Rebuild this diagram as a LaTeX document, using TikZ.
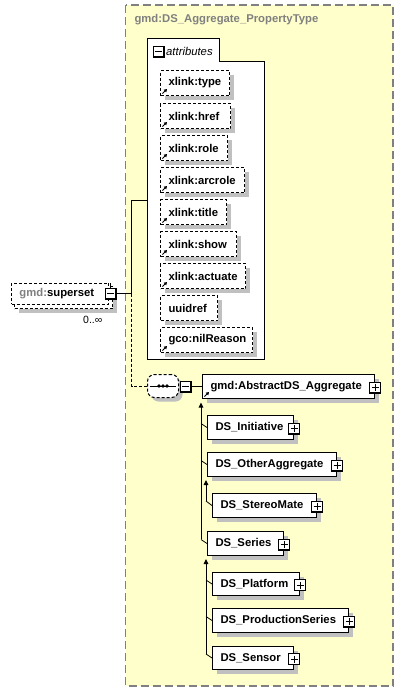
\documentclass[tikz,border=0pt]{standalone}
\usepackage{fontspec}
\setmainfont{Liberation Sans}
\usetikzlibrary{shadows,arrows.meta,calc}
\definecolor{bgyellow}{HTML}{FFFFCC}
\definecolor{shadowgray}{HTML}{C0C0C0}
\definecolor{bordergray}{HTML}{808080}
\definecolor{nsgray}{HTML}{808080}
\tikzset{
  x=1pt, y=-1pt,
  lbl/.style={font=\fontsize{11.3}{13}\selectfont\bfseries},
  elem/.style={lbl, draw=black, fill=white, line width=1pt, anchor=north west,
    inner xsep=8pt, inner ysep=0pt, align=left,
    drop shadow={shadow xshift=4pt, shadow yshift=-4pt, fill=shadowgray, opacity=1}},
  attr/.style={elem, dash pattern=on 3pt off 2pt},
  btn/.style={draw=black, fill=white, line width=1pt, minimum size=11pt, inner sep=0pt,
    path picture={\draw[line width=1.6pt] (path picture bounding box.north east) -- (path picture bounding box.south east) -- (path picture bounding box.south west);}},
  conn/.style={draw=black, line width=1pt},
  subarrow/.style={conn, -{Triangle[length=5pt,width=4.5pt]}},
  refarrow/.style={line width=1pt, -{Triangle[length=3pt,width=3.5pt]}},
}
\newcommand{\refmark}[1]{\draw[refarrow] ([shift={(2.5,-2.5)}]#1.south west) -- ++(4.5,-4.5);}
\newcommand{\plusbutton}[2]{\node[btn] (#1) at (#2) {};
  \draw[line width=1pt] ([xshift=2.5pt]#1.west) -- ([xshift=-2.5pt]#1.east)
    ([yshift=-2.5pt]#1.north) -- ([yshift=2.5pt]#1.south);}
\newcommand{\minusbutton}[2]{\node[btn] (#1) at (#2) {};
  \draw[line width=1pt] ([xshift=2.5pt]#1.west) -- ([xshift=-2.5pt]#1.east);}
\begin{document}
\begin{tikzpicture}
\useasboundingbox (0,0) rectangle (403,691);
% outer complex type box
\draw[fill=bgyellow, draw=bordergray, line width=1.2pt, dash pattern=on 8pt off 4pt] (125.5,5) rectangle (393,686);
\node[lbl, text=nsgray, anchor=west] (title) at (131,19.5) {gmd:DS\_Aggregate\_PropertyType};

% attributes box
\draw[fill=white, line width=1pt] (147,38) -- (219,38) -- (219,61) -- (264,61) -- (264,359) -- (147,359) -- cycle;
\coordinate (attrL) at (147,200.5);
\minusbutton{attrbtn}{158.5,51.5}
\node[font=\fontsize{11.3}{13}\selectfont\itshape, anchor=west, inner sep=0pt] (attrtxt) at (166,51) {attributes};

\node[attr, text width=53pt, minimum height=25pt] (xtype) at (160,70) {xlink:type};
\node[attr, text width=54pt, minimum height=25pt] (xhref) at (160,103) {xlink:href};
\node[attr, text width=51pt, minimum height=25pt] (xrole) at (160,135) {xlink:role};
\node[attr, text width=68pt, minimum height=25pt] (xarc) at (160,167) {xlink:arcrole};
\node[attr, text width=50pt, minimum height=25pt] (xtitle) at (160,199) {xlink:title};
\node[attr, text width=60pt, minimum height=25pt] (xshow) at (160,231) {xlink:show};
\node[attr, text width=69pt, minimum height=25pt] (xact) at (160,263) {xlink:actuate};
\node[attr, text width=41pt, minimum height=25pt] (uuid) at (160,295) {uuidref};
\node[attr, text width=76pt, minimum height=25pt] (nil) at (160,327) {gco:nilReason};
\foreach \n in {xtype,xhref,xrole,xarc,xtitle,xshow,xact,nil} {\refmark{\n}}

% superset element (multiple occurrences)
\node[draw=black, fill=white, line width=1pt, dash pattern=on 3pt off 2pt, anchor=north west,
  minimum width=98pt, minimum height=22pt,
  drop shadow={shadow xshift=4pt, shadow yshift=-4pt, fill=shadowgray, opacity=1}] (supback) at (14,286) {};
\node[lbl, draw=black, fill=white, line width=1pt, dash pattern=on 3pt off 2pt, anchor=north west,
  minimum width=97pt, minimum height=21pt, text width=81pt, inner xsep=8pt, inner ysep=0pt, align=left] (sup) at (11,282.5) {\textcolor{nsgray}{gmd:}superset};
\minusbutton{supbtn}{110.5,293.5}
\draw[line width=1pt] (supbtn.north) -- ++(0,-5);
\node[font=\fontsize{10.5}{12}\selectfont, anchor=west, inner sep=0pt] (card) at (83,319.5) {0..∞};

% sequence compositor
\node[draw=black, fill=white, line width=1pt, dash pattern=on 3pt off 2pt, rounded corners=7pt,
  minimum width=31pt, minimum height=23pt,
  drop shadow={shadow xshift=4pt, shadow yshift=-4pt, fill=shadowgray, opacity=1}] (seq) at (163,386) {};
\draw[line width=1pt] ([xshift=-13pt]seq.center) -- ([xshift=13pt]seq.center);
\foreach \dx in {-4,0,4} {\fill ([xshift=\dx pt]seq.center) circle (1.9pt);}
\minusbutton{seqbtn}{185.5,386.5}

% connectors from superset
\coordinate (jn1) at (131.5,293.5);
\coordinate (jn0) at (131.5,200.5);
\coordinate (jn2) at (131.5,386);
\draw[conn] (attrL) -- (jn0) -- (jn1) -- (supbtn.east);
\draw[conn, dash pattern=on 3pt off 2pt] (jn1) -- (jn2) -- (seq.west);

% abstract element and substitution group
\node[elem, text width=156pt, minimum height=24pt] (abs) at (202,374) {gmd:AbstractDS\_Aggregate};
\refmark{abs}
\draw[conn] (seqbtn.east) -- (seqbtn.east -| abs.west);

\node[elem, text width=70pt, minimum height=24pt] (init) at (207,415) {DS\_Initiative};
\node[elem, text width=113pt, minimum height=24pt] (other) at (207,452) {DS\_OtherAggregate};
\node[elem, text width=88pt, minimum height=24pt] (stereo) at (212,493) {DS\_StereoMate};
\node[elem, text width=60pt, minimum height=24pt] (series) at (207,531) {DS\_Series};
\node[elem, text width=71pt, minimum height=23pt] (platform) at (212,572) {DS\_Platform};
\node[elem, text width=120pt, minimum height=24pt] (prod) at (212,608) {DS\_ProductionSeries};
\node[elem, text width=65pt, minimum height=23pt] (sensor) at (212,646) {DS\_Sensor};

\foreach \n in {abs,init,other,stereo,series,platform,prod,sensor} {
  \plusbutton{\n btn}{$(\n.east)+(0,1)$}
}

% substitution lines
\coordinate (v1top) at (201,402.5);
\coordinate (v1bot) at (201,539);
\draw[subarrow] (v1bot) -- (v1top);
\foreach \n in {init,other,series} {\draw[conn, line width=0.8pt] ([yshift=4pt]\n.west -| v1top) -- (\n.west);}

\coordinate (v2top) at (206,480);
\coordinate (v2bot) at (206,501);
\draw[subarrow] (v2bot) -- (v2top);
\draw[conn, line width=0.8pt] (v2bot) -- (stereo.west);

\coordinate (v3top) at (206,559);
\coordinate (v3bot) at (206,653.5);
\draw[subarrow] (v3bot) -- (v3top);
\foreach \n in {platform,prod,sensor} {\draw[conn, line width=0.8pt] ([yshift=4pt]\n.west -| v3top) -- (\n.west);}
\end{tikzpicture}
\end{document}
